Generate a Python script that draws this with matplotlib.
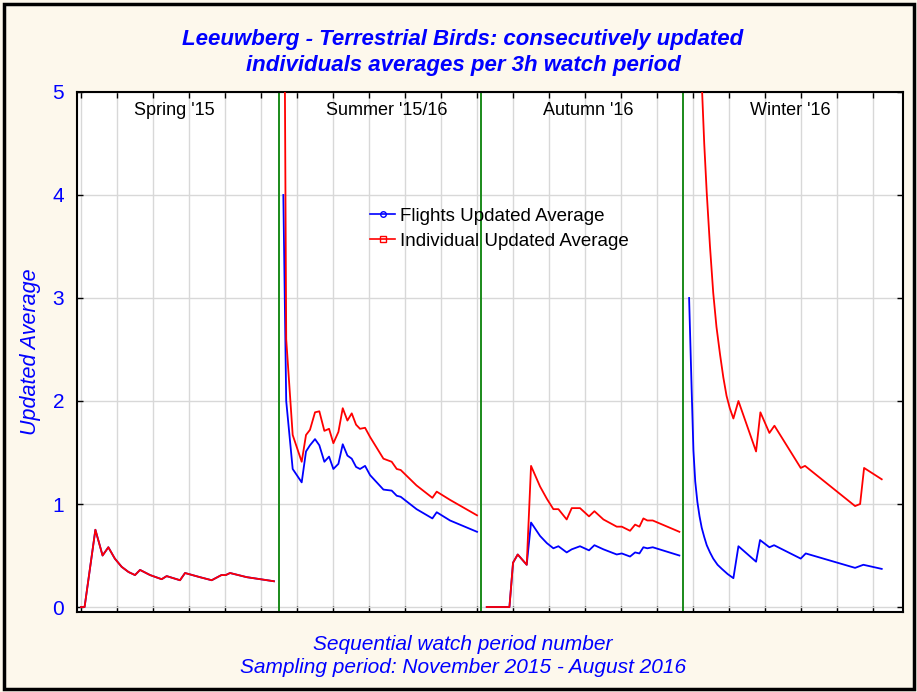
import matplotlib
matplotlib.use("Agg")
import matplotlib.pyplot as plt
from matplotlib.patches import Rectangle

# Spring '15 (both series identical)
spring_x = [0, 1, 4, 6, 7.6, 9.4, 11.3, 13.2, 15, 16.4, 19.2, 22.4, 23.8, 27.5,
            28.9, 33, 36.3, 39, 40.2, 41.4, 46, 53.6]
spring_y = [0, 0, 0.75, 0.5, 0.58, 0.47, 0.39, 0.34, 0.31, 0.36, 0.31, 0.27,
            0.30, 0.26, 0.33, 0.29, 0.26, 0.31, 0.31, 0.33, 0.29, 0.25]

# Summer '15/16
summer_x = [56.2, 57, 58.8, 61.3, 62.5, 63.6, 65, 66.2, 67.6, 68.9, 70.1, 71.5,
            72.7, 74, 75.2, 76.4, 77.5, 78.9, 80.3, 84, 86.3, 87.7, 88.8, 93.2,
            97.6, 98.8, 102.5, 110]
summer_flights = [4.0, 2.0, 1.34, 1.21, 1.51, 1.57, 1.63, 1.57, 1.41, 1.46, 1.34,
                  1.39, 1.58, 1.47, 1.44, 1.36, 1.34, 1.37, 1.28, 1.14, 1.13,
                  1.08, 1.07, 0.95, 0.86, 0.92, 0.84, 0.73]
summer_indiv = [8.0, 2.6, 1.67, 1.41, 1.67, 1.72, 1.89, 1.90, 1.71, 1.73, 1.59,
                1.70, 1.93, 1.81, 1.88, 1.77, 1.73, 1.74, 1.65, 1.44, 1.41, 1.34,
                1.33, 1.18, 1.06, 1.12, 1.04, 0.89]

# Autumn '16
autumn_x = [112.7, 119, 120, 121.3, 123.8, 125, 127.5, 129.4, 131.2, 132.6,
            134.9, 136.3, 138.6, 141.1, 142.6, 145.1, 148.8, 150.2, 152.5, 153.9,
            155.1, 156.2, 157.3, 158.8, 166.2]
autumn_flights = [0, 0, 0.43, 0.51, 0.41, 0.82, 0.69, 0.62, 0.57, 0.59, 0.53,
                  0.56, 0.59, 0.55, 0.60, 0.56, 0.51, 0.52, 0.49, 0.53, 0.52,
                  0.58, 0.57, 0.58, 0.50]
autumn_indiv = [0, 0, 0.43, 0.51, 0.41, 1.37, 1.17, 1.05, 0.95, 0.95, 0.85,
                0.96, 0.96, 0.88, 0.93, 0.85, 0.78, 0.78, 0.74, 0.80, 0.78,
                0.86, 0.84, 0.84, 0.73]

# Winter '16
winter_fx = [168.9, 169.6, 170.1, 170.6, 171.2, 171.8, 172.4, 173.1, 173.8, 174.7,
             175.6, 176.8, 178, 179.6, 181.2, 182.6, 187.5, 188.6, 191.2, 192.5,
             199.9, 201.3, 215, 217.3, 222.4]
winter_flights = [3.0, 2.12, 1.52, 1.22, 1.02, 0.88, 0.77, 0.68, 0.60, 0.53,
                  0.47, 0.41, 0.37, 0.32, 0.28, 0.59, 0.44, 0.65, 0.58, 0.60,
                  0.47, 0.52, 0.38, 0.41, 0.37]
winter_ix = [168.9, 171, 172.4, 173.1, 173.8, 174.7, 175.6, 176.5, 177.5, 178.4,
             179.3, 180.2, 181.2, 182.6, 187.5, 188.7, 191.2, 192.6, 199.9, 201.1,
             215, 216.4, 217.5, 222.4]
winter_indiv = [12.0, 7.0, 5.1, 4.5, 4.02, 3.5, 3.05, 2.72, 2.45, 2.23, 2.05,
                1.93, 1.83, 2.0, 1.51, 1.89, 1.69, 1.76, 1.35, 1.37, 0.98, 1.0,
                1.35, 1.24]

season_names = ["Spring '15", "Summer '15/16", "Autumn '16", "Winter '16"]
season_label_x = [26, 85, 141, 197]
season_breaks = [55, 111.2, 167.2]

blue = "#0000FF"
red = "#FF0000"
bg = "#FDF8EC"

plt.rcParams['font.family'] = ['Liberation Sans', 'DejaVu Sans']

fig = plt.figure(figsize=(9.17, 6.92), dpi=100, facecolor=bg)
ax = fig.add_axes([0.0836, 0.1156, 0.9011, 0.7515])
ax.set_facecolor("white")

fig.patches.append(Rectangle((0.004, 0.005), 0.993, 0.989, transform=fig.transFigure,
                             fill=False, edgecolor="black", linewidth=2.5))

# gridlines
ax.set_xticks(range(0, 230, 10))
ax.set_yticks(range(0, 6))
ax.grid(True, color="#d8d8d8", linewidth=1)
ax.set_axisbelow(True)

for xb in season_breaks:
    ax.axvline(xb, color="#1a8a1a", linewidth=1.4, zorder=2)

# flights first, individuals on top
ax.plot(spring_x, spring_y, color=blue, lw=1.3, zorder=3)
ax.plot(summer_x, summer_flights, color=blue, lw=1.3, zorder=3)
ax.plot(autumn_x, autumn_flights, color=blue, lw=1.3, zorder=3)
ax.plot(winter_fx, winter_flights, color=blue, lw=1.3, zorder=3)

ax.plot(spring_x, spring_y, color=red, lw=1.3, zorder=4)
ax.plot(summer_x, summer_indiv, color=red, lw=1.3, zorder=4)
ax.plot(autumn_x, autumn_indiv, color=red, lw=1.3, zorder=4)
ax.plot(winter_ix, winter_indiv, color=red, lw=1.3, zorder=4)

# legend entries
ax.plot([], [], color=blue, lw=1.2, marker="o", ms=4, mfc="none", mec=blue,
        label="Flights Updated Average")
ax.plot([], [], color=red, lw=1.2, marker="s", ms=4, mfc="none", mec=red,
        label="Individual Updated Average")
ax.legend(loc="upper left", bbox_to_anchor=(0.355, 0.777), frameon=False,
          fontsize=13.5, handlelength=1.35, handletextpad=0.25, labelspacing=0.4,
          borderpad=0, borderaxespad=0)

for name, sx in zip(season_names, season_label_x):
    ax.text(sx, 4.82, name, ha="center", va="center", fontsize=13, color="black")

ax.set_xlim(-1.2, 228.3)
ax.set_ylim(-0.0485, 5)
ax.set_xticklabels([])
ax.tick_params(axis="both", direction="in", length=4, width=1,
               top=True, right=True, color="black")
ax.tick_params(axis="y", labelsize=15, labelcolor=blue, pad=9)
for sp in ax.spines.values():
    sp.set_linewidth(1.5)

ax.set_ylabel("Updated Average", fontsize=15.5, color=blue, style="italic", labelpad=8)

fig.text(0.505, 0.052, "Sequential watch period number\n"
         "Sampling period: November 2015 - August 2016",
         ha="center", va="center", fontsize=15, color=blue, style="italic",
         linespacing=1.25)

fig.text(0.505, 0.924, "Leeuwberg - Terrestrial Birds: consecutively updated\n"
         "individuals averages per 3h watch period",
         ha="center", va="center", fontsize=16, color=blue, fontweight="bold",
         style="italic", linespacing=1.3)

fig.savefig("out.png", dpi=100, facecolor=bg)
